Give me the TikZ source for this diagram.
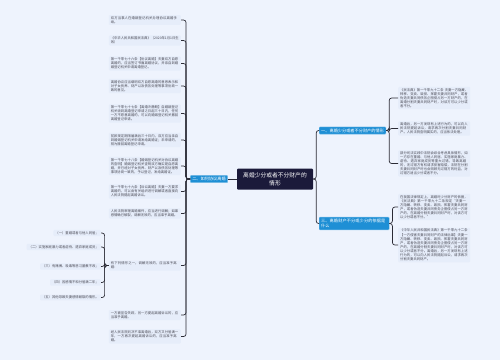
\documentclass[tikz,border=0pt]{standalone}
\usepackage{fontspec}
\setmainfont{Noto Sans CJK SC}
\XeTeXlinebreaklocale "zh"
\XeTeXlinebreakskip = 0pt plus 0.5pt
\usetikzlibrary{positioning}

\definecolor{bgc}{HTML}{EEF3FD}
\definecolor{leafc}{HTML}{E6EDFA}
\definecolor{rootc}{HTML}{1B1A3A}
\definecolor{branchc}{HTML}{1E8FD5}
\definecolor{linec}{HTML}{2B2B35}
\definecolor{txtc}{HTML}{4A4A55}

\tikzset{
  root/.style={fill=rootc, text=white, rounded corners=1bp, minimum width=76bp, minimum height=21bp,
    align=center, inner sep=1bp, font=\fontsize{5.8}{8}\selectfont},
  branch/.style={fill=branchc, draw=branchc!60, line width=0.4bp, text=white, rounded corners=0.8bp,
    inner xsep=2bp, inner ysep=1.6bp, font=\fontsize{4.2}{5.6}\selectfont},
  leaf/.style={fill=leafc, text=txtc, rounded corners=1bp, text width=68bp, align=left,
    inner xsep=2bp, inner ysep=1.4bp, font=\fontsize{3.35}{4.1}\selectfont},
  subleaf/.style={fill=leafc, text=txtc, rounded corners=1bp,
    inner xsep=2bp, inner ysep=1.4bp, font=\fontsize{3.35}{4.1}\selectfont},
  lk/.style={draw=linec, line width=0.7bp, rounded corners=2.5bp}
}

\begin{document}
\begin{tikzpicture}[x=1bp,y=-1bp]
	\fill[bgc] (0,0) rectangle (500,360);
	\useasboundingbox (0,0) rectangle (500,360);
	% centre and branches
	\node [root] (R) at (275,179) {离婚少分或者不分财产的\\情形};
	\node [branch] (B2) at (209,179) {二、如何协议离婚};
	\node [branch, anchor=west] (B1) at (319,130.5) {一、离婚少分或者不分财产的情形};
	\node [branch, anchor=west, text width=66bp, align=left] (B3) at (319,223.5) {三、离婚财产不分或少分的依据是什么};
	\draw [lk] (R.west) -- (B2.east);
	\draw [lk] (R.east) -- ++(3,0) |- (B1.west);
	\draw [lk] (R.east) -- ++(3,0) |- (B3.west);
	% right leaves
	\begin{scope}[every node/.style={leaf, anchor=west}]
	\node (r1) at (398,98) {《民法典》第一千零九十二条 夫妻一方隐藏、转移、变卖、毁损、挥霍夫妻共同财产，或者伪造夫妻共同债务企图侵占另一方财产的，在离婚分割夫妻共同财产时，对该方可以少分或者不分。};
	\node (r2) at (398,128.5) {离婚后，另一方发现有上述行为的，可以向人民法院提起诉讼，请求再次分割夫妻共同财产。人民法院查明属实的，应当依法处理。};
	\node (r3) at (398,163.5) {部分司法实践中法院会综合考虑具体情形，如一方存在重婚、与他人同居、实施家庭暴力、虐待、遗弃家庭成员等重大过错，导致离婚的，无过错方有权请求损害赔偿，法院在分割夫妻共同财产时也会照顾无过错方的利益，对过错方适当少分或者不分。};
	\node (r4) at (398,207) {在我国法律规定上，离婚时少分财产的依据，《民法典》第一千零九十二条规定“夫妻一方隐藏、转移、变卖、毁损、挥霍夫妻共同财产，或者伪造夫妻共同债务企图侵占另一方财产的，在离婚分割夫妻共同财产时，对该方可以少分或者不分。”};
	\node (r5) at (398,245) {《中华人民共和国民法典》第一千零九十二条【一方侵害夫妻共同财产的法律后果】夫妻一方隐藏、转移、变卖、毁损、挥霍夫妻共同财产，或者伪造夫妻共同债务企图侵占另一方财产的，在离婚分割夫妻共同财产时，对该方可以少分或者不分。离婚后，另一方发现有上述行为的，可以向人民法院提起诉讼，请求再次分割夫妻共同财产。};
	\end{scope}
	\foreach \c in {r1,r2,r3} \draw [lk] (B1.east) -- ++(3,0) |- (\c.west);
	\foreach \c in {r4,r5} \draw [lk] (B3.east) -- ++(3,0) |- (\c.west);
	% left leaves
	\begin{scope}[every node/.style={leaf, anchor=east}]
	\node (l1) at (181,20) {双方当事人在婚姻登记机关办理协议离婚手续。};
	\node (l2) at (181,40.5) {《中华人民共和国民法典》（2020年1月1日生效）};
	\node (l3) at (181,63.5) {第一千零七十六条【协议离婚】夫妻双方自愿离婚的，应当签订书面离婚协议，并亲自到婚姻登记机关申请离婚登记。};
	\node (l4) at (181,86) {离婚协议应当载明双方自愿离婚的意思表示和对子女抚养、财产以及债务处理等事项协商一致的意见。};
	\node (l5) at (181,113.5) {第一千零七十七条【离婚冷静期】自婚姻登记机关收到离婚登记申请之日起三十日内，任何一方不愿意离婚的，可以向婚姻登记机关撤回离婚登记申请。};
	\node (l6) at (181,140) {前款规定期限届满后三十日内，双方应当亲自到婚姻登记机关申请发给离婚证；未申请的，视为撤回离婚登记申请。};
	\node (l7) at (181,166) {第一千零七十八条【婚姻登记机关对协议离婚的查明】婚姻登记机关查明双方确实是自愿离婚，并已经对子女抚养、财产以及债务处理等事项协商一致的，予以登记，发给离婚证。};
	\node (l8) at (181,191.5) {第一千零七十九条【诉讼离婚】夫妻一方要求离婚的，可以由有关组织进行调解或者直接向人民法院提起离婚诉讼。};
	\node (l9) at (181,213.5) {人民法院审理离婚案件，应当进行调解；如果感情确已破裂，调解无效的，应当准予离婚。};
	\node (l10) at (181,265.5) {有下列情形之一，调解无效的，应当准予离婚：};
	\node (l11) at (181,315) {一方被宣告失踪，另一方提起离婚诉讼的，应当准予离婚。};
	\node (l12) at (181,336.5) {经人民法院判决不准离婚后，双方又分居满一年，一方再次提起离婚诉讼的，应当准予离婚。};
	\end{scope}
	\foreach \c in {l1,l2,l3,l4,l5,l6,l7,l8,l9,l10,l11,l12} \draw [lk] (B2.west) -- ++(-4,0) |- (\c.east);
	% sub leaves
	\begin{scope}[every node/.style={subleaf, anchor=east}]
	\node (s1) at (101,233) {（一）重婚或者与他人同居；};
	\node (s2) at (101,247) {（二）实施家庭暴力或者虐待、遗弃家庭成员；};
	\node (s3) at (101,266.5) {（三）有赌博、吸毒等恶习屡教不改；};
	\node (s4) at (101,282.5) {（四）因感情不和分居满二年；};
	\node (s5) at (101,297.5) {（五）其他导致夫妻感情破裂的情形。};
	\end{scope}
	\foreach \c in {s1,s2,s3,s4,s5} \draw [lk] (l10.west) -- ++(-4,0) |- (\c.east);
\end{tikzpicture}
\end{document}
